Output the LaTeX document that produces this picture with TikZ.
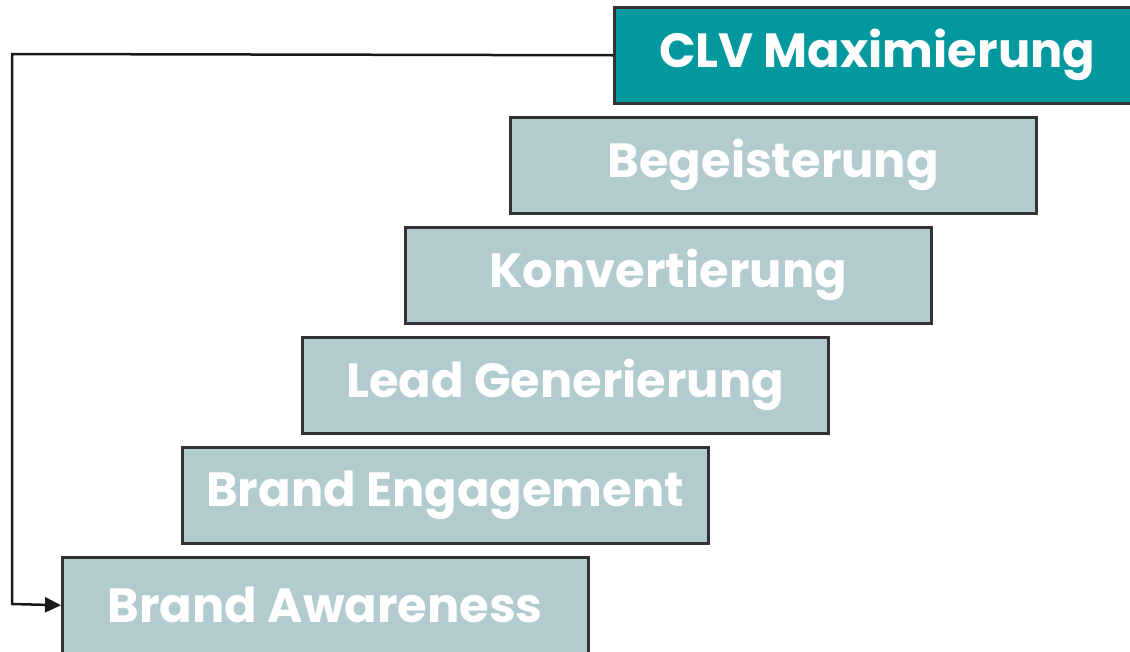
\documentclass[tikz,border=0pt]{standalone}
\usepackage{fontspec}
\setmainfont{Poppins}[UprightFont=* Bold]
\usetikzlibrary{arrows.meta}
\definecolor{teal1}{HTML}{03989E}
\definecolor{lightb}{HTML}{B2CBCF}
\definecolor{edge}{HTML}{333333}
\tikzset{
  stepbox/.style={draw=edge, line width=2.5pt, fill=lightb, minimum width=526pt, minimum height=96pt,
    inner sep=0pt, text=white, font=\fontsize{48}{52}\selectfont, anchor=north west},
  topbox/.style={stepbox, fill=teal1},
  conn/.style={draw=black!90, line width=2.5pt, -{Triangle[length=16pt,width=15pt]}}
}
\begin{document}
\begin{tikzpicture}[x=1pt,y=-1pt]
\useasboundingbox (0,0) rectangle (1130,651);
\begin{scope}
\clip (0,0) rectangle (1130,651);
\node[topbox] (clv) at (613,6) {CLV Maximierung};
\node[stepbox] (beg) at (509,116) {Begeisterung};
\node[stepbox] (kon) at (404,226) {Konvertierung};
\node[stepbox] (lead) at (301,336) {Lead Generierung};
\node[stepbox] (eng) at (181,446) {Brand Engagement};
\node[stepbox] (aw) at (61,556) {Brand Awareness};
\coordinate (c1) at (12,54);
\coordinate (c2) at (12,604);
\draw[conn] (clv.west) -- (c1) -- (c2) -- (aw.west);
\end{scope}
\end{tikzpicture}
\end{document}
